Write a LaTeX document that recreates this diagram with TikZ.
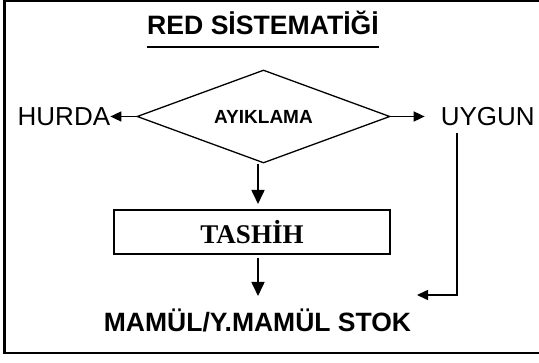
\documentclass[tikz,border=0pt]{standalone}
\usepackage{fontspec}
\setmainfont{Liberation Sans}
\newfontfamily\timesbold{Liberation Serif}[BoldFont={* Bold}]
\usetikzlibrary{shapes.geometric,arrows.meta,positioning}

\tikzset{
  harr/.style={-{Triangle[length=11pt,width=10pt]}, line width=1.6pt},
  darr/.style={-{Triangle[length=14pt,width=13pt]}, line width=1.6pt},
  label/.style={inner sep=0pt, font=\fontsize{26}{28}\selectfont}
}

\begin{document}
\begin{tikzpicture}[x=1pt, y=-1pt]
        % Fix the page size
        \useasboundingbox (0,0) rectangle (539,363);

        % Draw the outer frame (right side runs off the page)
        \draw[line width=2.2pt] (560,0.8) -- (4.5,0.8) -- (4.5,353) -- (560,353);

        % Title with its underline
        \node[anchor=base, inner sep=0pt, font=\fontsize{26.6}{28}\selectfont\bfseries] (title) at (263,34.4) {RED SİSTEMATİĞİ};
        \draw[line width=2pt] ([yshift=-12.6pt]title.base west) -- ([yshift=-12.6pt]title.base east);

        % The decision
        \node[diamond, draw, line width=1.3pt, aspect=2.6, inner sep=0pt,
              minimum width=253pt, minimum height=93pt,
              font=\fontsize{19}{21}\selectfont\bfseries] (ayiklama) at (263.5,116.5) {AYIKLAMA};

        % Outcomes left and right
        \node[label, left=26pt of ayiklama] (hurda) {HURDA};
        \node[label, inner xsep=16pt, inner ysep=3pt, right=34pt of ayiklama] (uygun) {UYGUN};
        \draw[harr] (ayiklama.west) -- (hurda.east);
        \draw[harr] (ayiklama.east) -- (uygun.west);

        % Correction box
        \node[draw, line width=1.8pt, minimum width=276pt, minimum height=44pt,
              font=\fontsize{27}{29}\timesbold\bfseries] (tashih) at (252,232) {TASHİH};

        % Stock
        \node[anchor=base, inner sep=0pt, font=\fontsize{26.5}{28}\selectfont\bfseries] (stok) at (257.5,332) {MAMÜL/Y.MAMÜL STOK};

        % Downward flow
        \coordinate (D_1) at (258,204);
        \coordinate (D_2) at (258,296);
        \draw[darr] (D_1 |- ayiklama.south) -- (D_1);
        \draw[darr] ([yshift=-3pt]D_2 |- tashih.south) -- (D_2);

        % From UYGUN back to stock
        \coordinate (S_in) at (417,295);
        \draw[harr, line width=1.5pt] ([xshift=-31pt,yshift=-4pt]uygun.south) |- (S_in);
    \end{tikzpicture}
\end{document}
